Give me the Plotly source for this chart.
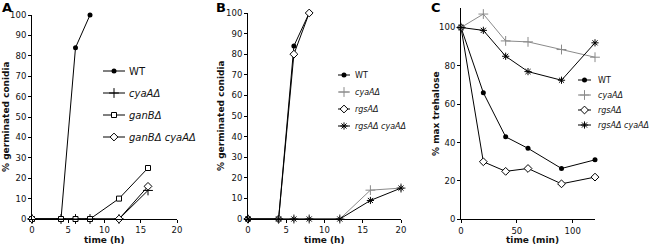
import plotly.graph_objects as go

W, H = 654, 250

# ---------------- data ----------------
# Panel A: % germinated conidia vs time (h)
a_names = ["WT", "cyaAΔ", "ganBΔ", "ganBΔ cyaAΔ"]
a_time_wt = [0, 4, 6, 8]
a_wt = [0, 0, 84, 100]
a_time_cya = [0, 4, 6, 8, 12, 16]
a_cya = [0, 0, 0, 0, 0, 14]
a_time_ganb = [0, 4, 6, 8, 12, 16]
a_ganb = [0, 0, 0, 0, 10, 25]
a_time_ganbcya = [0, 12, 16]
a_ganbcya = [0, 0, 16]

# Panel B: % germinated conidia vs time (h)
b_names = ["WT", "cyaAΔ", "rgsAΔ", "rgsAΔ cyaAΔ"]
b_time_wt = [0, 4, 6, 8]
b_wt = [0, 0, 84, 100]
b_time_cya = [0, 4, 6, 8, 12, 16, 20]
b_cya = [0, 0, 0, 0, 0, 14, 15]
b_time_rgs = [0, 4, 6, 8]
b_rgs = [0, 0, 80, 100]
b_time_rgscya = [0, 4, 6, 8, 12, 16, 20]
b_rgscya = [0, 0, 0, 0, 0, 9, 15]

# Panel C: % max trehalose vs time (min)
c_names = ["WT", "cyaAΔ", "rgsAΔ", "rgsAΔ cyaAΔ"]
c_time = [0, 20, 40, 60, 90, 120]
c_wt = [100, 66, 43, 37, 26.5, 31]
c_cya = [100, 107, 93, 92.5, 88.5, 84.5]
c_rgs = [100, 30, 25, 26.5, 18.5, 22]
c_rgscya = [100, 98.5, 85, 77, 72.5, 92]

# ---------------- styles ----------------
BLACK = "#000000"
GRAY = "#8a8a8a"
FONT = "DejaVu Sans"


def mstyle(kind, color=BLACK):
    if kind == "circle":
        return dict(symbol="circle", size=5, color=color, line=dict(color=color, width=0))
    if kind == "cross":
        return dict(symbol="cross-thin-open", size=7, color=color, line=dict(color=color, width=1))
    if kind == "square":
        return dict(symbol="square", size=5, color="white", line=dict(color=color, width=1))
    if kind == "diamond":
        return dict(symbol="diamond", size=6, color="white", line=dict(color=color, width=1))
    if kind == "asterisk":
        return dict(symbol="asterisk-open", size=6, color=color, line=dict(color=color, width=1))


def px(x):
    return x / W


def py(y):
    return 1 - y / H


fig = go.Figure()

panelA = [
    (a_time_wt, a_wt, "circle", BLACK),
    (a_time_cya, a_cya, "cross", BLACK),
    (a_time_ganb, a_ganb, "square", BLACK),
    (a_time_ganbcya, a_ganbcya, "diamond", BLACK),
]
panelB = [
    (b_time_wt, b_wt, "circle", BLACK),
    (b_time_cya, b_cya, "cross", GRAY),
    (b_time_rgs, b_rgs, "diamond", BLACK),
    (b_time_rgscya, b_rgscya, "asterisk", BLACK),
]
panelC = [
    (c_time, c_wt, "circle", BLACK),
    (c_time, c_cya, "cross", GRAY),
    (c_time, c_rgs, "diamond", BLACK),
    (c_time, c_rgscya, "asterisk", BLACK),
]

for axn, panel, names in (("", panelA, a_names), ("2", panelB, b_names), ("3", panelC, c_names)):
    for (xs, ys, kind, col), nm in zip(panel, names):
        fig.add_trace(go.Scatter(
            x=xs, y=ys, name=nm, mode="lines+markers",
            line=dict(color=col, width=1),
            marker=mstyle(kind, col),
            xaxis="x" + axn, yaxis="y" + axn,
            cliponaxis=False, showlegend=False,
        ))

# ---------------- custom legends (pixel overlay axis) ----------------
# (panel, names, line x0, line x1, text x, first row y, row step, font size)
legend_specs = [
    (panelA, a_names, 103, 125, 127, 71, 22, 10),
    (panelB, b_names, 338, 350, 353, 75, 17, 8),
    (panelC, c_names, 578, 591, 596, 80, 15, 8),
]
annotations = []
for panel, names, x0, x1, xt, y0, dy, fs in legend_specs:
    for i, ((xs, ys, kind, col), nm) in enumerate(zip(panel, names)):
        yy = y0 + i * dy
        fig.add_trace(go.Scatter(
            x=[x0, x1], y=[yy, yy], mode="lines",
            line=dict(color=col, width=1), xaxis="x4", yaxis="y4",
            showlegend=False, hoverinfo="skip", cliponaxis=False,
        ))
        fig.add_trace(go.Scatter(
            x=[(x0 + x1) / 2], y=[yy], mode="markers",
            marker=mstyle(kind, col), xaxis="x4", yaxis="y4",
            showlegend=False, hoverinfo="skip", cliponaxis=False,
        ))
        label = nm if nm == "WT" else "<i>" + nm + "</i>"
        annotations.append(dict(
            x=xt, y=yy, xref="x4", yref="y4", text=label, showarrow=False,
            xanchor="left", yanchor="middle",
            font=dict(family=FONT, size=fs, color="#111111"),
        ))

# ---------------- axes ----------------
common = dict(
    showline=True, linecolor="black", linewidth=1, ticks="outside", ticklen=3,
    tickcolor="black", tickwidth=1, showgrid=False, zeroline=False, automargin=False,
    tickfont=dict(family=FONT, size=8.5, color="#111111"),
)

layout = dict(
    width=W, height=H,
    margin=dict(l=0, r=0, t=0, b=0, autoexpand=False),
    paper_bgcolor="white", plot_bgcolor="rgba(0,0,0,0)",
    showlegend=False,
    xaxis=dict(domain=[px(32), px(177)], range=[0, 20], tickvals=[0, 5, 10, 15, 20], anchor="y", **common),
    yaxis=dict(domain=[py(219), py(15)], range=[0, 100], dtick=10, anchor="x", **common),
    xaxis2=dict(domain=[px(248), px(401)], range=[0, 20], tickvals=[0, 5, 10, 15, 20], anchor="y2", **common),
    yaxis2=dict(domain=[py(219), py(13)], range=[0, 100], dtick=10, anchor="x2", **common),
    xaxis3=dict(domain=[px(461), px(595)], range=[0, 120], tickvals=[0, 50, 100], anchor="y3", **common),
    yaxis3=dict(domain=[py(219.3), py(8.3)], range=[0, 110], tickvals=[0, 20, 40, 60, 80, 100], anchor="x3", **common),
    xaxis4=dict(domain=[0, 1], range=[0, W], visible=False, fixedrange=True, anchor="y4", automargin=False),
    yaxis4=dict(domain=[0, 1], range=[H, 0], visible=False, fixedrange=True, anchor="x4", automargin=False),
)

title_font = dict(family=FONT, size=9, color="#111111")
letter_font = dict(family=FONT, size=13, color="#000000")

# axis titles
for xc, txt in ((104.5, "time (h)"), (324.5, "time (h)"), (532, "time (min)")):
    annotations.append(dict(x=px(xc), y=py(240), xref="paper", yref="paper",
                            text="<b>" + txt + "</b>", showarrow=False,
                            xanchor="center", yanchor="middle", font=title_font))
for xc, yc, txt in ((6, 117, "% germinated conidia"), (221, 116, "% germinated conidia"),
                    (436, 114, "% max trehalose")):
    annotations.append(dict(x=px(xc), y=py(yc), xref="paper", yref="paper",
                            text="<b>" + txt + "</b>", showarrow=False, textangle=-90,
                            xanchor="center", yanchor="middle", font=title_font))
# panel letters
for xc, txt in ((0, "A"), (214, "B"), (429, "C")):
    annotations.append(dict(x=px(xc), y=py(7), xref="paper", yref="paper",
                            text="<b>" + txt + "</b>", showarrow=False,
                            xanchor="left", yanchor="middle", font=letter_font))

layout["annotations"] = annotations
fig.update_layout(**layout)

fig.write_html(
    "out.html",
    config={"displayModeBar": False, "staticPlot": True},
    post_script="document.body.style.margin='0';document.body.style.padding='0';"
                "document.documentElement.style.overflow='hidden';",
)
